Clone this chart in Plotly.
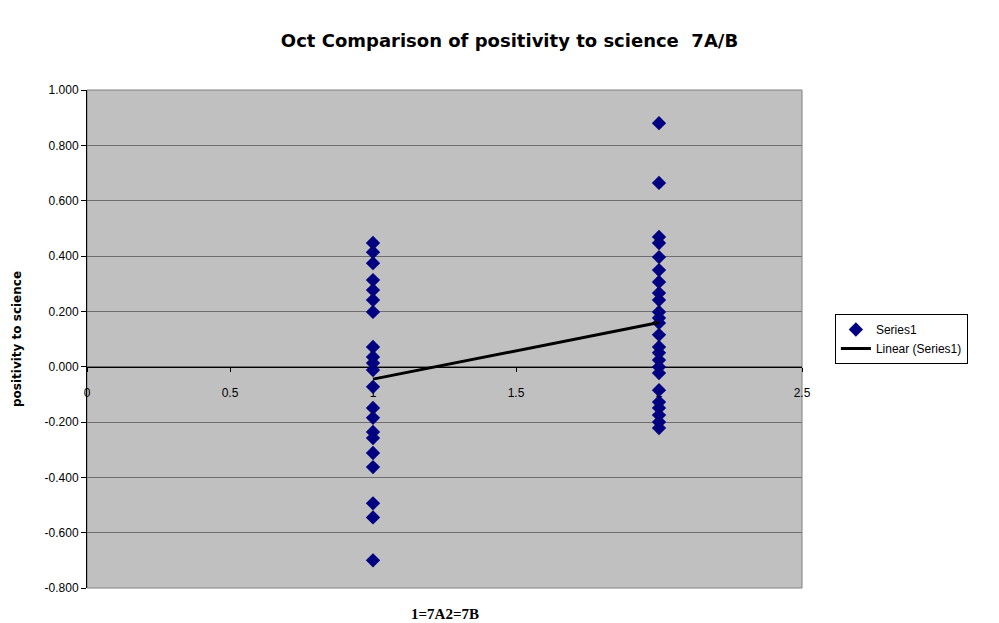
import numpy as np
import plotly.graph_objects as go

# Data
group_x_7a = 1
values_7a = [0.447, 0.414, 0.374, 0.313, 0.277, 0.241, 0.198, 0.071, 0.035, 0.013,
             -0.012, -0.073, -0.149, -0.185, -0.236, -0.258, -0.312, -0.363,
             -0.494, -0.545, -0.700]
group_x_7b = 2
values_7b = [0.880, 0.664, 0.469, 0.447, 0.396, 0.349, 0.306, 0.266, 0.241, 0.198,
             0.176, 0.158, 0.115, 0.071, 0.050, 0.024, -0.001, -0.023, -0.085,
             -0.128, -0.149, -0.175, -0.200, -0.222]

y_tick_values = [-0.8, -0.6, -0.4, -0.2, 0.0, 0.2, 0.4, 0.6, 0.8, 1.0]
y_tick_labels = ["-0.800", "-0.600", "-0.400", "-0.200", "0.000",
                 "0.200", "0.400", "0.600", "0.800", "1.000"]
x_tick_values = [0, 0.5, 1, 1.5, 2, 2.5]
x_tick_labels = ["0", "0.5", "1", "1.5", "2", "2.5"]

x_vals = [group_x_7a] * len(values_7a) + [group_x_7b] * len(values_7b)
y_vals = values_7a + values_7b

slope, intercept = np.polyfit(x_vals, y_vals, 1)
trend_x = [min(x_vals), max(x_vals)]
trend_y = [slope * t + intercept for t in trend_x]

fig = go.Figure()
fig.add_trace(go.Scatter(
    x=x_vals, y=y_vals, mode="markers", name="Series1",
    marker=dict(symbol="diamond", size=11, color="#000080", line=dict(width=0)),
))
fig.add_trace(go.Scatter(
    x=trend_x, y=trend_y, mode="lines", name="Linear (Series1)",
    line=dict(color="black", width=3),
))

y_min, y_max = -0.8, 1.0
fig.update_layout(
    width=999, height=623,
    margin=dict(l=87, r=197, t=90, b=35),
    paper_bgcolor="white",
    plot_bgcolor="#C0C0C0",
    font=dict(family="Liberation Sans, Arial", size=12, color="black"),
    title=dict(
        text="<b>Oct Comparison of positivity to science  7A/B</b>",
        x=0.51, xanchor="center", y=0.935, yanchor="middle",
        font=dict(family="DejaVu Sans", size=18, color="black"),
    ),
    xaxis=dict(
        range=[0, 2.5], tickvals=x_tick_values, ticktext=x_tick_labels,
        showgrid=False, zeroline=False,
        anchor="free", position=(0 - y_min) / (y_max - y_min),
        showline=True, linecolor="black", linewidth=1,
        ticks="outside", ticklen=4, tickcolor="black",
        ticklabelstandoff=11,
        layer="below traces",
        tickfont=dict(size=12),
    ),
    yaxis=dict(
        range=[y_min, y_max], tickvals=y_tick_values, ticktext=y_tick_labels,
        showgrid=True, gridcolor="#6e6e6e", gridwidth=1,
        zeroline=False,
        showline=True, linecolor="black", linewidth=1,
        ticks="outside", ticklen=5, tickcolor="black",
        tickfont=dict(size=12),
        title=dict(text="<b>positivity to science</b>",
                   font=dict(family="DejaVu Sans", size=12, color="black"),
                   standoff=20),
    ),
    legend=dict(
        x=1.046, y=0.5, xanchor="left", yanchor="middle",
        bgcolor="white", bordercolor="black", borderwidth=1,
        font=dict(size=12), tracegroupgap=0,
    ),
    showlegend=True,
)

fig.add_shape(type="rect", xref="paper", yref="paper", x0=0, y0=0, x1=1, y1=1,
              line=dict(color="#808080", width=1), layer="below")

fig.add_annotation(
    text="<b>1=7A2=7B</b>", xref="paper", yref="paper",
    x=0.5, y=-0.052, xanchor="center", yanchor="middle", showarrow=False,
    font=dict(family="Liberation Serif, Times New Roman", size=15, color="black"),
)

fig.write_html("out.html")
